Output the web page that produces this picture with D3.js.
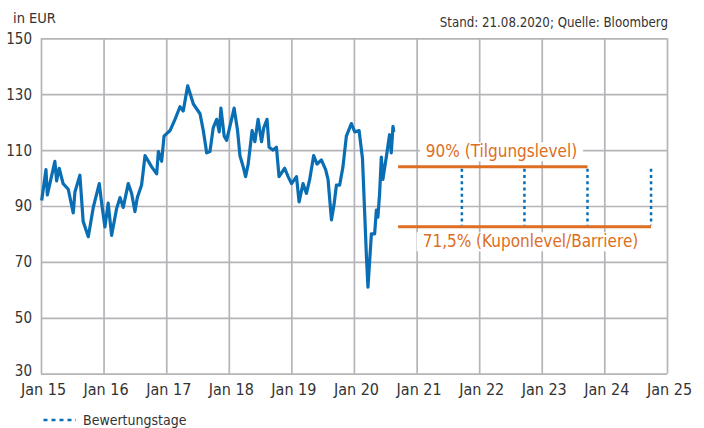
<!DOCTYPE html>
<html>
<head>
<meta charset="utf-8">
<script src="https://cdn.jsdelivr.net/npm/d3@7"></script>
<style>
  body{margin:0;background:#fff;}
  text{font-family:"Liberation Sans Narrow","DejaVu Sans",sans-serif;font-stretch:condensed;fill:#333;}
</style>
</head>
<body>
<div id="chart"></div>
<script>
// price history (date, EUR)
var priceDates = ["2015-01-05","2015-01-30","2015-02-07","2015-03-23","2015-04-02","2015-04-17","2015-05-10","2015-06-09","2015-07-08","2015-07-18",
  "2015-08-16","2015-09-04","2015-10-04","2015-11-02","2015-12-07","2015-12-21","2016-01-09","2016-01-28","2016-02-17","2016-03-17",
  "2016-04-06","2016-04-25","2016-05-24","2016-06-13","2016-07-02","2016-07-16","2016-08-10","2016-08-30","2016-10-08","2016-11-06",
  "2016-11-16","2016-12-05","2016-12-19","2017-01-23","2017-02-21","2017-03-22","2017-04-10","2017-05-06","2017-06-08","2017-07-17",
  "2017-08-05","2017-08-25","2017-09-13","2017-10-02","2017-10-22","2017-11-06","2017-11-16","2017-12-05","2017-12-19","2018-01-17",
  "2018-02-01","2018-02-21","2018-03-07","2018-03-26","2018-04-09","2018-04-24","2018-05-17","2018-06-02","2018-06-21","2018-07-11",
  "2018-07-24","2018-08-12","2018-08-24","2018-09-16","2018-10-06","2018-10-21","2018-11-23","2018-12-13","2019-01-02","2019-01-31",
  "2019-02-15","2019-03-10","2019-03-30","2019-04-18","2019-05-11","2019-05-31","2019-06-25","2019-07-20","2019-08-03","2019-08-23",
  "2019-09-07","2019-09-21","2019-10-10","2019-10-29","2019-11-18","2019-12-17","2020-01-06","2020-01-31","2020-02-20","2020-03-14",
  "2020-03-23","2020-04-12","2020-05-01","2020-05-11","2020-05-20","2020-05-30","2020-06-09","2020-06-18","2020-07-08","2020-07-27",
  "2020-08-06","2020-08-16","2020-08-21"];
var priceValues = [92,103,94,106,99,103.5,98,96,87.5,95,
  101,84.5,79,89.5,98,91,82.5,91,79.5,89,
  93,89.5,98,94.5,88,93,97.5,108,104,101.5,
  109.5,106,115,117,121,125.5,124,133,126.5,123,
  117,109,109.5,118,121,116.5,125,115,113.5,121,
  125,117,108,104,100.5,105,117,113,121,113,
  118,121,111,110,111,100.5,103.5,100.5,98,100.5,
  91.5,98,94.5,99.5,108,105,106.5,103,99.5,85,
  90.5,97.5,97.5,104,115,119.5,116.5,117,107,72,
  61,80,80,88.5,86,94.5,107.5,99.5,107.5,115.5,
  109,118.5,116.5];

// product levels
var levelStart = "2020-09-15";
var observationDates = ["2021-09-22","2022-09-22","2023-09-25","2024-09-30"];
var redemptionLevel = 104;   // 90% (Tilgungslevel)
var barrierLevel = 82.6;     // 71,5% (Kuponlevel/Barriere)
var yTicks = [30,50,70,90,110,130,150];
var xTickYears = [2015,2016,2017,2018,2019,2020,2021,2022,2023,2024,2025];

(function(){
var W = 704, H = 428;
var pLeft = 41, pRight = 667, pTop = 38.3, pBottom = 373.7;
var blue = "#0a6eb4", orange = "#dd6e22", gridColor = "#b5b5b9";
var parse = d3.timeParse("%Y-%m-%d");

var svg = d3.select("#chart").append("svg").attr("width", W).attr("height", H);

var x = d3.scaleTime()
  .domain([new Date(2015,0,1), new Date(2025,0,1)])
  .range([pLeft, pRight]);
var y = d3.scaleLinear().domain([30,150]).range([pBottom, pTop]);

// horizontal grid + y labels
var yAxis = svg.append("g")
  .attr("transform", "translate(" + pLeft + ",0)")
  .call(d3.axisLeft(y).tickValues(yTicks).tickSize(-(pRight-pLeft)).tickPadding(9));
yAxis.select(".domain").remove();
yAxis.selectAll("line").attr("stroke", gridColor).attr("stroke-width", 1.7);
yAxis.selectAll("text").attr("font-size", 15)
  .attr("dy", function(d){ return d === yTicks[0] ? "0.1em" : "0.33em"; })
  .style("fill","#333");

// vertical grid + x labels
var xAxis = svg.append("g")
  .attr("transform", "translate(0," + pBottom + ")")
  .call(d3.axisBottom(x).tickValues(xTickYears.map(function(d){return new Date(d,0,1);}))
    .tickSize(-(pBottom-pTop)).tickPadding(0).tickFormat(d3.timeFormat("Jan %y")));
xAxis.select(".domain").remove();
xAxis.selectAll("line").attr("stroke", gridColor).attr("stroke-width", 1.7);
xAxis.selectAll("text").attr("font-size", 16).attr("dy", 21.5).attr("dx", 2).style("fill","#333");
svg.selectAll("g").attr("font-family", null).attr("font-size", null);

// titles
svg.append("text").attr("x", 13).attr("y", 22.5).attr("font-size", 14.5).text("in EUR");
svg.append("text").attr("x", 668).attr("y", 27.3).attr("font-size", 13.2)
  .attr("text-anchor", "end").text("Stand: 21.08.2020; Quelle: Bloomberg");

// level lines
var lastObs = observationDates[observationDates.length-1];
var secondLast = observationDates[observationDates.length-2];
svg.append("line")
  .attr("x1", x(parse(levelStart))).attr("x2", x(parse(secondLast)))
  .attr("y1", y(redemptionLevel)).attr("y2", y(redemptionLevel))
  .attr("stroke", orange).attr("stroke-width", 3);
svg.append("line")
  .attr("x1", x(parse(levelStart))).attr("x2", x(parse(lastObs)))
  .attr("y1", y(barrierLevel)).attr("y2", y(barrierLevel))
  .attr("stroke", orange).attr("stroke-width", 3);

// observation days
svg.selectAll(".obs").data(observationDates).join("line")
  .attr("class", "obs")
  .attr("x1", function(d){return x(parse(d));}).attr("x2", function(d){return x(parse(d));})
  .attr("y1", y(redemptionLevel) + 2).attr("y2", y(barrierLevel) - 1.5)
  .attr("stroke", blue).attr("stroke-width", 2.5).attr("stroke-dasharray", "3,3.2");

// level labels with white backing
function levelLabel(txt, cx, baseline){
  var g = svg.append("g");
  var t = g.append("text").attr("x", cx).attr("y", baseline).attr("font-size", 17)
    .attr("text-anchor", "middle").style("fill", orange).text(txt);
  var b = t.node().getBBox();
  g.insert("rect", "text").attr("x", b.x - 6).attr("y", b.y + 1).attr("width", b.width + 12)
    .attr("height", b.height - 1).attr("fill", "#fff");
}
levelLabel("90% (Tilgungslevel)", 501.5, 157.3);
levelLabel("71,5% (Kuponlevel/Barriere)", 530.5, 247.3);

// price line
var line = d3.line()
  .x(function(d, i){return x(parse(priceDates[i]));})
  .y(function(d){return y(d);});
svg.append("path").datum(priceValues)
  .attr("d", line).attr("fill", "none")
  .attr("stroke", blue).attr("stroke-width", 3.2).attr("stroke-linejoin", "round");

// legend
svg.append("line").attr("x1", 43.5).attr("x2", 76).attr("y1", 420).attr("y2", 420)
  .attr("stroke", blue).attr("stroke-width", 2.5).attr("stroke-dasharray", "4,4");
svg.append("text").attr("x", 83).attr("y", 425).attr("font-size", 14).text("Bewertungstage");
})();
</script>
</body>
</html>
